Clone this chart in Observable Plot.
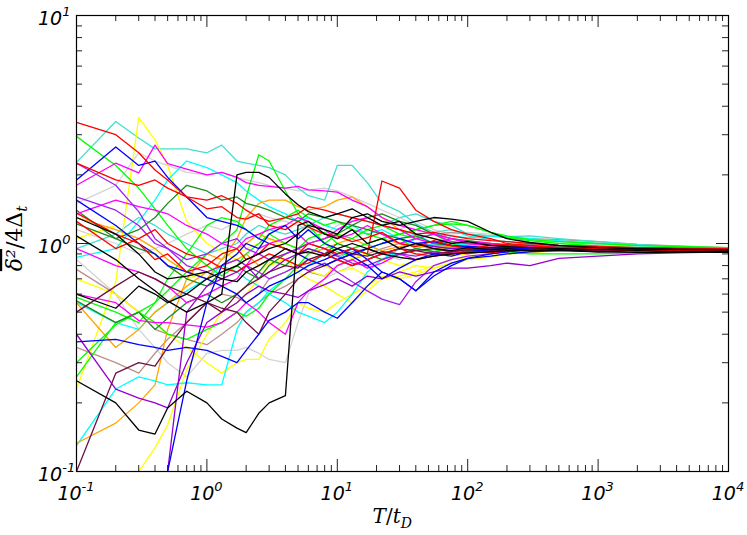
<!DOCTYPE html>
<html><head><meta charset="utf-8">
<script src="https://cdn.jsdelivr.net/npm/d3@7"></script>
<script src="https://cdn.jsdelivr.net/npm/@observablehq/plot@0.6"></script>
<style>body{margin:0;background:#fff}</style>
</head><body><div id="chart"></div>
<script>
// T / t_D sample grid
const T = [0.1,0.2,0.3,0.4,0.5,0.7, 1,1.3,1.7,2,2.5,3,4,5,6,8, 10,13,17,22,30,40,55,75, 100,150,200,300,500, 1000,2000,4000,10000];

// series values (delta^2 / 4 Delta_t)
const gray1 = [1.5,1.8,2.5,2.3,2.2,2.05, 2.0,2.05,1.95,1.9,1.85,1.8,1.75,1.7,1.72,1.75, 1.7,1.6,1.5,1.4,1.3,1.2,1.1,1.05, 1.03,1.0,0.98,0.97,0.96, 0.955,0.95,0.95,0.945];
const gray2 = [0.85,0.6,0.42,0.35,0.3,0.26, 0.33,0.34,0.34,0.35,0.33,0.31,0.3,0.45,0.6,0.7, 0.75,0.8,0.85,0.9,0.85,0.9,0.92,0.94, 0.93,0.95,0.96,0.95,0.955, 0.95,0.95,0.945,0.945];
const gray3 = [1.15,1.0,0.9,0.95,1.0,1.1, 1.2,1.15,1.25,1.3,1.35,1.3,1.25,1.2,1.15,1.1, 1.2,1.25,1.3,1.2,1.15,1.25,1.15,1.1, 1.12,1.1,1.07,1.04,1.02, 0.99,0.97,0.96,0.95];
const rosy1 = [0.77,0.6,0.5,0.42,0.4,0.38, 0.36,0.4,0.45,0.5,0.55,0.6,0.65,0.7,0.75,0.72, 0.8,0.85,0.9,0.95,1.0,1.05,1.1,1.12, 1.1,1.08,1.06,1.05,1.04, 1.02,0.99,0.975,0.96];
const rosy2 = [0.35,0.3,0.27,0.33,0.38,0.45, 0.55,0.6,0.58,0.55,0.6,0.7,0.75,0.8,0.85,0.9, 0.88,0.92,0.95,1.0,1.05,1.0,0.98,0.97, 0.96,0.95,0.95,0.96,0.95, 0.945,0.945,0.94,0.94];
const turq1 = [2.27,3.43,2.9,2.6,2.6,2.6, 2.5,2.7,2.3,2.25,2.2,2.15,2.0,1.75,1.62,1.55, 2.2,2.2,1.85,1.5,1.38,1.22,1.12,1.15, 1.08,1.04,1.02,0.99,0.97, 0.96,0.955,0.95,0.945];
const turq2 = [0.95,1.1,1.3,1.2,1.1,1.0, 0.9,0.95,1.0,1.1,1.2,1.15,1.1,1.15,1.2,1.3, 1.35,1.3,1.25,1.2,1.3,1.35,1.25,1.2, 1.1,1.08,1.07,1.08,1.05, 1.02,0.99,0.97,0.955];
const yel1 = [0.23,0.68,3.57,2.85,2.2,1.25, 1.0,0.92,0.85,0.8,0.75,0.82,0.85,0.8,0.76,0.72, 0.8,0.86,0.9,0.85,0.8,0.84,0.9,0.88, 0.9,0.92,0.93,0.95,0.94, 0.96,0.95,0.95,0.94];
const yel2 = [0.05,0.06,0.1,0.127,0.16,0.28, 0.4,0.5,0.55,0.6,0.7,0.8,0.85,0.75,0.7,0.65, 0.6,0.55,0.62,0.7,0.72,0.75,0.8,0.85, 0.87,0.88,0.9,0.92,0.93, 0.94,0.935,0.94,0.935];
const yel3 = [0.7,0.6,0.5,0.45,0.4,0.35, 0.3,0.27,0.3,0.31,0.31,0.38,0.45,0.55,0.52,0.5, 0.55,0.6,0.65,0.72,0.7,0.73,0.78,0.82, 0.85,0.87,0.9,0.91,0.93, 0.94,0.935,0.935,0.93];
const yel4 = [1.05,1.2,1.0,0.9,0.8,0.7, 0.75,0.8,0.9,0.95,1.0,1.05,0.95,0.9,0.85,0.8, 0.75,0.78,0.72,0.7,0.75,0.8,0.78,0.82, 0.86,0.88,0.9,0.92,0.93, 0.935,0.935,0.94,0.935];
const cyan1 = [0.13,0.23,0.26,0.25,0.24,0.245, 0.24,0.24,0.42,0.5,0.55,0.62,0.7,0.75,0.8,0.9, 0.85,0.95,1.0,0.92,0.88,0.95,1.0,0.98, 1.0,0.99,0.97,0.98,0.96, 0.95,0.96,0.955,0.95];
const cyan2 = [0.87,0.95,1.25,1.55,1.9,2.3, 2.15,2.0,1.85,1.7,1.55,1.45,1.35,1.25,1.3,1.2, 1.15,1.2,1.1,1.15,1.05,1.1,1.0,1.02, 0.98,0.99,0.97,0.98,0.96, 0.955,0.95,0.95,0.945];
const cyan3 = [0.55,0.45,0.42,0.5,0.55,0.62, 0.7,0.8,0.75,0.7,0.65,0.6,0.55,0.5,0.48,0.45, 0.5,0.6,0.75,0.85,0.95,1.05,1.1,1.08, 1.06,1.08,1.07,1.05,1.03, 1.0,0.98,0.965,0.955];
const orange1 = [1.3,1.15,1.05,0.95,0.85,0.75, 0.7,0.85,1.05,1.3,1.5,1.55,1.55,1.45,1.4,1.45, 1.55,1.6,1.45,1.3,1.15,1.1,1.05,1.02, 1.0,0.99,0.98,0.97,0.96, 0.955,0.95,0.95,0.945];
const orange2 = [0.133,0.163,0.2,0.24,0.42,0.7, 0.9,0.85,0.95,1.0,1.1,1.05,1.0,0.95,0.9,0.95, 1.0,1.05,0.98,0.93,0.97,1.0,0.95,0.96, 0.97,0.95,0.96,0.95,0.94, 0.95,0.945,0.94,0.94];
const orange3 = [0.55,0.35,0.42,0.5,0.55,0.65, 0.75,0.8,0.85,0.9,0.8,0.85,0.9,0.95,1.0,0.95, 0.9,0.95,1.0,1.05,1.0,0.98,0.95,0.97, 0.96,0.95,0.94,0.945,0.95, 0.94,0.945,0.94,0.94];
const lime1 = [2.95,2.2,1.75,1.42,1.2,0.95, 0.8,0.72,0.8,0.9,1.0,1.1,1.0,0.95,1.05,1.12, 1.0,0.95,1.0,1.05,1.1,1.15,1.2,1.25, 1.2,1.12,1.06,1.03,1.0, 0.975,0.96,0.95,0.945];
const lime2 = [0.26,0.45,0.5,0.55,0.62,0.75, 0.9,1.0,1.15,1.6,2.45,2.3,1.7,1.35,1.2,1.0, 0.92,0.88,0.95,1.0,1.05,0.95,0.92,0.96, 0.93,0.94,0.95,0.96,0.95, 0.94,0.94,0.945,0.94];
const lime3 = [0.3,0.44,0.5,0.45,0.4,0.38, 0.42,0.45,0.5,0.48,0.52,0.6,0.7,0.8,0.9,1.0, 1.1,1.05,1.15,1.2,1.1,1.05,1.1,1.0, 0.95,0.93,0.92,0.9,0.9, 0.9,0.91,0.92,0.925];
const lime4 = [0.58,0.5,0.45,0.55,0.7,0.9, 1.2,1.3,1.25,1.15,1.05,1.2,1.3,1.4,1.3,1.2, 1.25,1.15,1.1,1.05,1.1,1.15,1.2,1.22, 1.2,1.12,1.08,1.04,1.02, 1.0,0.98,0.97,0.96];
const dgreen1 = [1.4,1.05,1.15,1.3,1.5,1.8, 1.7,1.55,1.6,1.5,1.45,1.4,1.3,1.25,1.35,1.3, 1.25,1.2,1.15,1.1,1.05,1.08,1.0,0.98, 0.97,0.96,0.95,0.94,0.95, 0.94,0.945,0.94,0.94];
const dgreen2 = [1.22,1.05,0.95,0.9,0.8,0.7, 0.65,0.75,0.8,0.75,0.7,0.8,0.9,0.95,1.0,1.05, 1.1,1.2,1.3,1.35,1.25,1.2,1.1,1.05, 1.03,1.0,0.99,0.98,0.965, 0.96,0.955,0.95,0.945];
const dgreen3 = [0.56,0.45,0.5,0.42,0.47,0.55, 0.6,0.55,0.6,0.65,0.75,0.85,0.8,0.9,0.95,0.9, 1.0,0.95,0.9,0.85,0.9,0.95,0.92,0.9, 0.93,0.94,0.93,0.95,0.94, 0.94,0.935,0.935,0.93];
const mag1 = [1.8,2.25,2.04,2.7,2.24,2.12, 2.0,2.05,1.95,1.85,1.8,1.78,1.75,1.78,1.72,1.7, 1.68,1.55,1.45,1.3,1.2,1.15,1.1,1.05, 1.02,1.0,0.98,0.97,0.96, 0.955,0.95,0.95,0.945];
const mag2 = [1.35,1.55,1.45,1.4,1.35,1.2, 1.1,1.0,0.95,1.05,1.1,1.15,1.2,1.3,1.25,1.15, 1.05,1.1,1.2,1.1,1.0,1.05,1.1,1.02, 1.0,0.98,0.97,0.96,0.95, 0.96,0.95,0.95,0.945];
const mag3 = [0.6,0.55,0.46,0.45,0.45,0.44, 0.43,0.45,0.5,0.55,0.5,0.45,0.4,0.55,0.62,0.7, 0.8,0.85,0.78,0.82,0.9,0.85,0.88,0.92, 0.9,0.93,0.94,0.95,0.94, 0.945,0.94,0.94,0.94];
const mag4 = [0.95,0.8,0.75,0.7,0.65,0.55, 0.6,0.65,0.7,0.8,0.95,1.0,1.05,1.1,1.0,1.05, 1.15,1.25,1.3,1.2,1.15,1.05,1.0,1.05, 1.0,0.99,0.98,0.97,0.96, 0.95,0.95,0.945,0.945];
const purple1 = [2.25,1.8,1.38,1.05,0.95,0.8, 0.75,0.8,0.85,0.8,0.75,0.7,0.75,0.8,0.76,0.82, 0.75,0.68,0.62,0.57,0.54,0.68,0.8,0.85, 0.88,0.9,0.92,0.93,0.94, 0.93,0.94,0.935,0.935];
const purple2 = [0.4,0.23,0.21,0.2,0.19,0.3, 0.45,0.5,0.55,0.6,0.65,0.62,0.6,0.58,0.62,0.66, 0.7,0.65,0.72,0.7,0.75,0.72,0.75,0.78, 0.78,0.8,0.82,0.8,0.86, 0.88,0.9,0.91,0.92];
const purple3 = [0.05,0.06,0.07,0.08,0.1,0.5, 0.65,0.7,0.75,0.8,0.7,0.75,0.85,0.9,0.95,0.9, 0.85,0.8,0.85,0.9,0.95,1.0,0.97,0.95, 0.96,0.95,0.94,0.95,0.945, 0.94,0.94,0.935,0.935];
const purple4 = [1.6,1.4,1.2,1.0,0.95,0.85, 0.9,1.0,1.05,0.95,0.9,0.85,0.9,0.95,1.0,0.95, 0.88,0.82,0.8,0.85,0.9,0.88,0.92,0.9, 0.92,0.93,0.94,0.945,0.95, 0.945,0.94,0.94,0.94];
const maroon1 = [0.1,0.27,0.3,0.29,0.35,0.45, 0.55,0.5,0.6,0.65,0.7,0.75,0.8,0.78,0.85,0.9, 0.95,0.9,0.88,0.92,0.9,0.93,0.95,0.92, 0.94,0.93,0.935,0.94,0.94, 0.935,0.935,0.93,0.93];
const maroon2 = [0.5,0.65,0.75,0.7,0.65,0.6, 0.55,0.52,0.5,0.45,0.4,0.5,0.6,0.7,0.75,0.8, 0.85,0.9,0.95,0.9,0.95,0.93,0.9,0.92, 0.94,0.95,0.94,0.945,0.95, 0.94,0.94,0.94,0.935];
const blue1 = [0.03,0.04,0.055,0.075,0.1,0.25, 0.55,0.8,0.9,1.0,0.95,1.1,1.2,1.05,1.15,1.0, 0.95,0.88,0.8,0.7,0.78,0.85,0.9,0.88, 0.92,0.94,0.95,0.96,0.95, 0.96,0.95,0.945,0.94];
const blue2 = [0.37,0.38,0.36,0.35,0.34,0.35, 0.34,0.32,0.3,0.34,0.4,0.46,0.5,0.55,0.55,0.5, 0.47,0.55,0.65,0.75,0.7,0.62,0.75,0.82, 0.86,0.88,0.9,0.92,0.93, 0.94,0.93,0.935,0.94];
const blue3 = [1.9,2.65,2.2,2.3,1.95,1.6, 1.3,1.25,1.2,1.15,1.05,1.0,0.95,0.9,0.85,0.8, 0.85,0.9,0.95,1.0,1.05,1.0,1.02,0.98, 0.97,0.96,0.96,0.95,0.95, 0.955,0.95,0.95,0.945];
const blue4 = [1.55,1.2,1.0,0.9,0.8,0.75, 0.7,0.65,0.6,0.55,0.6,0.65,0.7,0.75,0.8,0.85, 0.9,0.95,0.85,0.75,0.7,0.62,0.72,0.8, 0.86,0.9,0.92,0.94,0.95, 0.955,0.95,0.945,0.945];
const red1 = [3.4,3.0,2.5,2.1,1.9,1.6, 1.42,1.45,1.3,1.28,1.35,1.2,1.15,1.25,1.18,1.1, 1.08,1.02,1.06,1.12,1.0,0.97,1.03,0.98, 0.95,0.98,0.99,0.96,0.94, 0.95,0.96,0.95,0.945];
const red2 = [1.36,1.1,1.0,0.85,0.9,0.75, 0.8,0.9,0.95,0.85,0.9,1.0,0.95,0.9,1.0,0.95, 0.9,0.95,0.9,1.88,1.75,1.4,1.25,1.15, 1.1,1.05,1.0,0.98,0.96, 0.95,0.955,0.95,0.95];
const red3 = [2.25,1.9,1.8,1.9,1.75,1.6, 1.55,1.62,1.5,1.4,1.3,1.25,1.3,1.35,1.45,1.4, 1.35,1.3,1.25,1.2,1.15,1.1,1.12,1.08, 1.05,1.03,1.02,1.0,0.98, 0.97,0.96,0.955,0.95];
const red4 = [1.25,0.95,1.05,1.15,1.0,0.9, 0.85,0.78,0.75,0.8,0.85,0.9,0.85,0.8,0.82,0.9, 0.85,0.8,0.85,0.9,0.95,0.9,0.88,0.9, 0.92,0.91,0.93,0.94,0.935, 0.94,0.93,0.93,0.93];
const black1 = [0.25,0.2,0.152,0.146,0.19,0.225, 0.2,0.17,0.155,0.148,0.18,0.2,0.215,1.2,1.25,1.1, 1.05,1.15,1.0,1.05,0.95,1.0,0.95,0.93, 0.96,0.94,0.95,0.93,0.94, 0.92,0.93,0.92,0.925];
const black2 = [1.08,0.85,0.7,0.62,0.56,0.5, 0.55,0.6,2.0,2.05,2.05,1.95,1.65,1.48,1.38,1.3, 1.35,1.42,1.3,1.2,1.25,1.1,1.05,1.0, 1.02,0.98,0.97,0.96,0.95, 0.94,0.95,0.94,0.94];
const black3 = [0.6,0.52,0.65,0.6,0.55,0.6, 0.7,0.75,0.8,0.85,0.9,0.95,1.0,1.1,1.2,1.15, 1.1,1.3,1.35,1.25,1.2,1.25,1.3,1.28, 1.25,1.12,1.05,1.01,0.98, 0.96,0.95,0.945,0.94];
const black4 = [1.3,1.1,0.9,0.75,0.7,0.72, 0.75,0.7,0.68,0.75,0.8,0.85,0.95,0.9,0.92,0.88, 0.95,1.0,0.95,0.9,0.87,0.85,0.88,0.9, 0.91,0.92,0.93,0.935,0.93, 0.92,0.915,0.915,0.915];

// tick values and labels
const xMajor = [0.1, 1, 10, 100, 1000, 10000];
const xExp = ["-1", "0", "1", "2", "3", "4"];
const yMajor = [0.1, 1, 10];
const yExp = ["-1", "0", "1"];

const series = [
  [gray1,"#d3d3d3"],[gray2,"#d3d3d3"],[gray3,"#d3d3d3"],[rosy1,"#bc8f8f"],[rosy2,"#bc8f8f"],
  [turq1,"#40e0d0"],[turq2,"#40e0d0"],[yel1,"#ffff00"],[yel2,"#ffff00"],[yel3,"#ffff00"],[yel4,"#ffff00"],
  [cyan1,"#00ffff"],[cyan2,"#00ffff"],[cyan3,"#00ffff"],[orange1,"#ffa500"],[orange2,"#ffa500"],[orange3,"#ffa500"],
  [lime1,"#00ff00"],[lime2,"#00ff00"],[lime3,"#00ff00"],[lime4,"#00ff00"],
  [dgreen1,"#1e8c1e"],[dgreen2,"#1e8c1e"],[dgreen3,"#1e8c1e"],
  [mag1,"#ff00ff"],[mag2,"#ff00ff"],[mag3,"#ff00ff"],[mag4,"#ff00ff"],
  [purple1,"#a020f0"],[purple2,"#9400d3"],[purple3,"#9400d3"],[purple4,"#a020f0"],
  [maroon1,"#701040"],[maroon2,"#701040"],
  [blue1,"#0000ff"],[blue2,"#0000ff"],[blue3,"#0000ff"],[blue4,"#0000ff"],
  [red1,"#ff0000"],[red2,"#ff0000"],[red3,"#ff0000"],[red4,"#ff0000"],
  [black1,"#000000"],[black2,"#000000"],[black3,"#000000"],[black4,"#000000"]
];

const W = 747, H = 535, mL = 76, mR = 19, mT = 15, mB = 64;
const iW = W - mL - mR, iH = H - mT - mB;
const minorOf = majors => majors.slice(0, -1).flatMap(m => [2,3,4,5,6,7,8,9].map(k => k * m));
const xMinor = minorOf(xMajor), yMinor = minorOf(yMajor);
const tickStroke = "#222";

const marks = series.map(([vals, color]) =>
  Plot.line(T.map((t, i) => ({T: t, v: vals[i]})), {x: "T", y: "v", stroke: color, strokeWidth: 1.3, clip: true})
);
marks.push(
  Plot.tickX(xMajor, {x: d => d, insetTop: iH - 12, stroke: tickStroke}),
  Plot.tickX(xMajor, {x: d => d, insetBottom: iH - 12, stroke: tickStroke}),
  Plot.tickX(xMinor, {x: d => d, insetTop: iH - 6, stroke: tickStroke}),
  Plot.tickX(xMinor, {x: d => d, insetBottom: iH - 6, stroke: tickStroke}),
  Plot.tickY(yMajor, {y: d => d, insetRight: iW - 12, stroke: tickStroke}),
  Plot.tickY(yMajor, {y: d => d, insetLeft: iW - 12, stroke: tickStroke}),
  Plot.tickY(yMinor, {y: d => d, insetRight: iW - 6, stroke: tickStroke}),
  Plot.tickY(yMinor, {y: d => d, insetLeft: iW - 6, stroke: tickStroke}),
  Plot.frame({stroke: "#000", strokeWidth: 1.2})
);

const svg = Plot.plot({
  width: W, height: H, marginLeft: mL, marginRight: mR, marginTop: mT, marginBottom: mB,
  x: {type: "log", domain: [0.1, 10000], axis: null},
  y: {type: "log", domain: [0.1, 10], axis: null},
  style: {background: "#fff"},
  marks
});

// tick labels placed through the plot's own scales
const sx = svg.scale("x"), sy = svg.scale("y");
const s = d3.select(svg);
const FONT = "font-family:'DejaVu Sans',sans-serif;font-style:oblique;font-size:19px;fill:#000";
function pow10(sel, e) {
  sel.append("tspan").text("10");
  sel.append("tspan").attr("dy", -9).attr("style", "font-size:13px").text(e);
}
xMajor.forEach((v, i) => {
  s.append("text").attr("x", sx.apply(v)).attr("y", mT + iH + 29).attr("text-anchor", "middle")
    .attr("style", FONT).call(pow10, xExp[i]);
});
yMajor.forEach((v, i) => {
  s.append("text").attr("x", mL - 38).attr("y", sy.apply(v) + 10).attr("text-anchor", "start")
    .attr("style", FONT).call(pow10, yExp[i]);
});

const xt = s.append("text").attr("x", mL + iW * 0.485).attr("y", 523).attr("text-anchor", "middle")
  .attr("style", "font-family:'DejaVu Serif',serif;font-size:20px;font-style:italic;fill:#000");
xt.append("tspan").text("T");
xt.append("tspan").attr("style", "font-style:normal").text("/");
xt.append("tspan").text("t");
xt.append("tspan").attr("dy", 5).attr("style", "font-size:14px").text("D");

const yt = s.append("text").attr("transform", `translate(22,${mT + iH * 0.49}) rotate(-90)`).attr("text-anchor", "middle")
  .attr("style", "font-family:'DejaVu Serif',serif;font-size:22px;fill:#000");
yt.append("tspan").attr("style", "font-style:italic;text-decoration:overline").text("δ\u00B2");
yt.append("tspan").text("/4Δ");
yt.append("tspan").attr("dy", 5).attr("style", "font-style:italic;font-size:15px").text("t");

document.getElementById("chart").appendChild(svg);
</script>
</body></html>
